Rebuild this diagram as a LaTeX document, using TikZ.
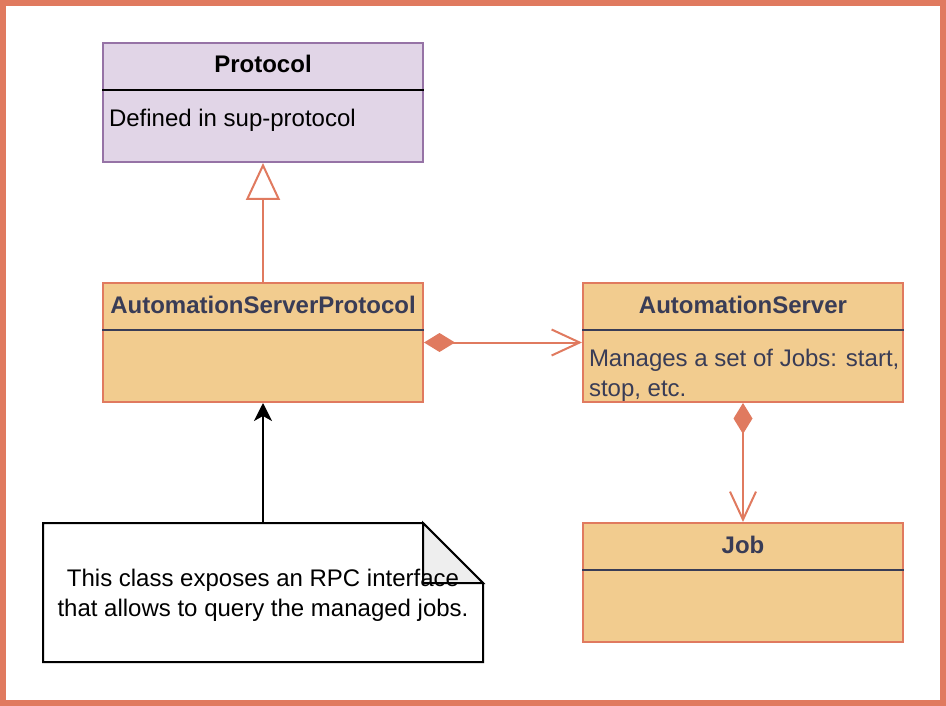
\documentclass[tikz,border=0pt]{standalone}
\usepackage{fontspec}
\setmainfont{Liberation Sans}
\usetikzlibrary{arrows.meta,positioning,calc}
\definecolor{frame}{HTML}{E07A5F}
\definecolor{umlfill}{HTML}{F2CC8F}
\definecolor{umltext}{HTML}{393C56}
\definecolor{protofill}{HTML}{E1D5E7}
\definecolor{protodraw}{HTML}{9673A6}
\definecolor{foldfill}{HTML}{EEEEEE}
\newcommand{\umlfont}{\fontsize{24}{29.5}\selectfont}
\tikzset{
  umlclass/.style={rectangle,draw=frame,fill=umlfill,line width=2pt,minimum width=320pt,minimum height=119pt,inner sep=0pt},
  classname/.style={anchor=base,font=\umlfont\bfseries,text=umltext,inner sep=0pt},
  classbody/.style={anchor=base west,align=left,text=umltext,inner sep=0pt},
  notebox/.style={rectangle,minimum width=440pt,minimum height=139pt,inner sep=0pt,outer sep=0pt},
  compose/.style={frame,{Diamond[length=31pt,width=19pt]}-{Straight Barb[length=28pt,width=26pt]}},
}

\begin{document}
\begin{tikzpicture}[x=1pt,y=-1pt,>={Stealth[length=18pt,width=18pt,inset=5pt]},font=\umlfont,line width=2pt]
        \useasboundingbox (0,0) rectangle (946,706);
        \draw [frame,line width=6pt] (3,3) rectangle (943,703);
        % classes
        \node [umlclass,draw=protodraw,fill=protofill] (Protocol) at (263,102.5) {};
        \node [umlclass] (ASP) at (263,342.5) {};
        \node [umlclass] (AS) at (743,342.5) {};
        \node [umlclass] (Job) at (743,582.5) {};
        \draw ($(Protocol.north west)+(0,48)$) -- ($(Protocol.north east)+(0,48)$);
        \foreach \cls in {ASP,AS,Job}
        \draw [umltext] ($(\cls.north west)+(0,48)$) -- ($(\cls.north east)+(0,48)$);
        \node [classname,text=black] (ProtocolName) at ($(Protocol.north)+(0,31)$) {Protocol};
        \node [classbody,text=black] (ProtocolBody) at ($(Protocol.north west)+(6,85)$) {Defined in sup-protocol};
        \node [classname] (ASPName) at ($(ASP.north)+(0,31)$) {AutomationServerProtocol};
        \node [classname] (ASName) at ($(AS.north)+(0,31)$) {AutomationServer};
        % base of a two-line node is its last line
        \node [classbody] (ASBody) at ($(AS.north west)+(6,114)$) {Manages a set of Jobs: start,\\stop, etc.};
        \node [classname] (JobName) at ($(Job.north)+(0,31)$) {Job};
        % note
        \node [notebox] (Note) at (263,592.5) {};
        \draw (Note.north west) -- ($(Note.north east)+(-60,0)$) -- ($(Note.north east)+(0,60)$)
        -- (Note.south east) -- (Note.south west) -- cycle;
        \draw [fill=foldfill] ($(Note.north east)+(-60,0)$) -- ($(Note.north east)+(-60,60)$) -- ($(Note.north east)+(0,60)$) -- cycle;
        \node [align=center,inner sep=0pt] (NoteText) at ($(Note.center)+(0,3)$) {This class exposes an RPC interface\\that allows to query the managed jobs.};
        % relations
        \draw [frame,-{Triangle[open,length=37pt,width=34pt,fill=white]}] (ASP) -- (Protocol);
        \draw [compose] (ASP) -- (AS);
        \draw [compose] (AS) -- (Job);
        \draw [->] (Note) -- (ASP);
    \end{tikzpicture}
\end{document}
